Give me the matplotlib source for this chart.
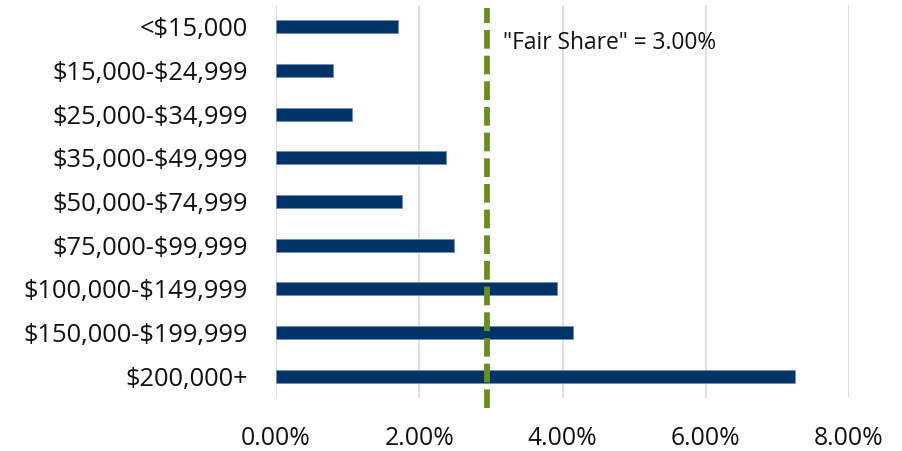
import matplotlib
matplotlib.use("Agg")
import matplotlib.pyplot as plt
import matplotlib.transforms as mtransforms
from matplotlib.ticker import FuncFormatter

categories = ["<$15,000", "$15,000-$24,999", "$25,000-$34,999", "$35,000-$49,999",
              "$50,000-$74,999", "$75,000-$99,999", "$100,000-$149,999",
              "$150,000-$199,999", "$200,000+"]
values = [1.70, 0.80, 1.06, 2.38, 1.76, 2.49, 3.93, 4.14, 7.25]
fair_share_pos = 2.95
fair_share_label = '"Fair Share" = 3.00%'
xticks = [0, 2, 4, 6, 8]

plt.rcParams['font.family'] = ['Open Sans', 'DejaVu Sans']
plt.rcParams['text.parse_math'] = False
text_color = '#111111'

fig = plt.figure(figsize=(9.03, 4.51), dpi=100)
W, H = 903, 451
ax = fig.add_axes([276 / W, (H - 398) / H, (849 - 276) / W, (398 - 5) / H])

y = list(range(len(categories)))
ax.barh(y, values, height=0.3, color='#003366', edgecolor='#6f8db3', linewidth=0.5, zorder=3)
ax.set_ylim(len(categories) - 0.5, -0.5)
ax.set_xlim(0, 8)
ax.set_xticks(xticks)
ax.xaxis.set_major_formatter(FuncFormatter(lambda v, p: f"{v:.2f}%"))
ax.set_yticks(y)
ax.set_yticklabels(categories)
ax.grid(axis='x', color='#d9d9d9', linewidth=1.2, zorder=0)
ax.set_axisbelow(True)
for s in ax.spines.values():
    s.set_visible(False)
ax.tick_params(axis='x', length=0, labelsize=17.8, labelcolor=text_color, pad=20)
ax.tick_params(axis='y', length=0, labelsize=18.3, labelcolor=text_color, pad=20)

trans = mtransforms.blended_transform_factory(ax.transData, ax.transAxes)
ax.plot([fair_share_pos, fair_share_pos], [-0.026, 0.992], transform=trans,
        color='#6b8e23', linewidth=4.2, linestyle=(0, (3.2, 1.2)),
        solid_capstyle='butt', dash_capstyle='butt', clip_on=False, zorder=4)
ax.text(3.17, 0.37, fair_share_label, fontsize=16.4, color=text_color, va='center', ha='left', zorder=5)

fig.savefig("out.png", dpi=100)
